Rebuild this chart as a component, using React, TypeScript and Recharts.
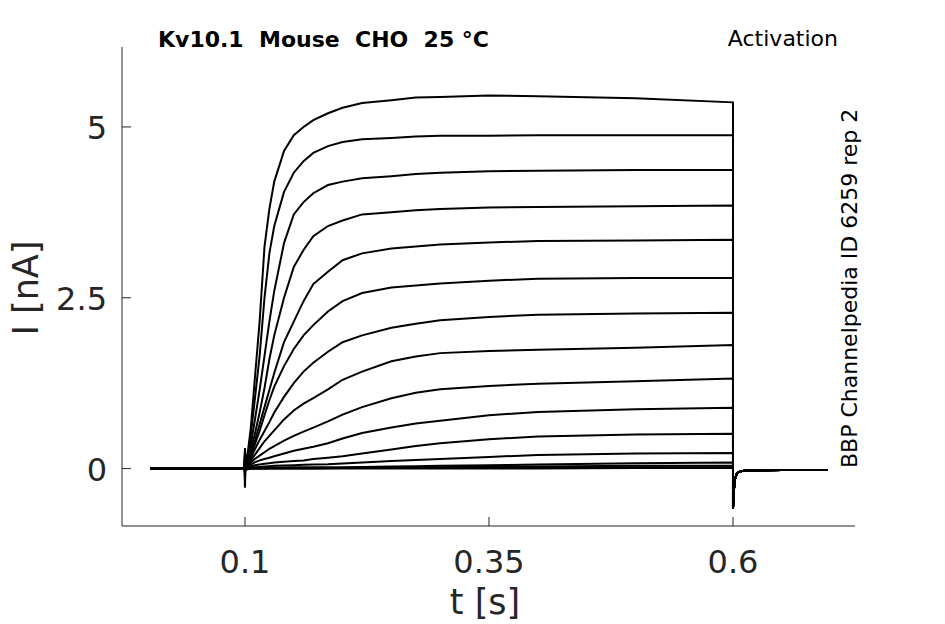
import { LineChart, Line, XAxis, YAxis } from "recharts"

// time points (s) of the three parts of each sweep
const tBefore = [0.003, 0.05, 0.0995]
const iBefore = [0, 0, 0]

const tStep = [0.1, 0.1004, 0.103, 0.106, 0.11, 0.115, 0.12, 0.125, 0.13, 0.14, 0.15, 0.16, 0.17, 0.185, 0.2, 0.22, 0.25, 0.275, 0.3, 0.35, 0.4, 0.5, 0.6]

const tAfter = [0.6, 0.601, 0.602, 0.604, 0.607, 0.612, 0.65, 0.697]
const iAfter = [-0.58, -0.3, -0.15, -0.07, -0.04, -0.03, -0.02, -0.02]

// current (nA) during the step, one array per sweep
const sweep1 = [0.3, 0.05, 0.25, 0.6, 1.3, 2.15, 3.25, 3.8, 4.2, 4.65, 4.88, 5.0, 5.1, 5.2, 5.28, 5.35, 5.39, 5.43, 5.44, 5.46, 5.45, 5.42, 5.36]
const sweep2 = [0.28, 0.04, 0.2, 0.5, 1.0, 1.65, 2.5, 3.15, 3.55, 4.05, 4.33, 4.5, 4.62, 4.72, 4.78, 4.82, 4.84, 4.86, 4.87, 4.87, 4.88, 4.88, 4.88]
const sweep3 = [0.25, 0.03, 0.15, 0.35, 0.7, 1.15, 1.65, 2.15, 2.6, 3.3, 3.72, 3.9, 4.03, 4.15, 4.2, 4.25, 4.28, 4.31, 4.33, 4.35, 4.36, 4.37, 4.37]
const sweep4 = [0.22, 0.03, 0.12, 0.28, 0.5, 0.82, 1.18, 1.6, 1.95, 2.5, 2.95, 3.2, 3.4, 3.55, 3.63, 3.72, 3.75, 3.78, 3.8, 3.82, 3.83, 3.84, 3.85]
const sweep5 = [0.2, 0.02, 0.1, 0.22, 0.4, 0.65, 0.9, 1.15, 1.4, 1.85, 2.15, 2.45, 2.7, 2.88, 3.05, 3.15, 3.22, 3.25, 3.28, 3.31, 3.33, 3.34, 3.35]
const sweep6 = [0.18, 0.02, 0.1, 0.2, 0.35, 0.55, 0.78, 1.0, 1.2, 1.5, 1.75, 1.95, 2.1, 2.3, 2.45, 2.57, 2.65, 2.68, 2.71, 2.75, 2.78, 2.79, 2.79]
const sweep7 = [0.15, 0.02, 0.08, 0.16, 0.28, 0.42, 0.55, 0.68, 0.82, 1.05, 1.25, 1.42, 1.55, 1.71, 1.85, 1.95, 2.06, 2.12, 2.17, 2.22, 2.25, 2.27, 2.28]
const sweep8 = [0.12, 0.01, 0.06, 0.12, 0.2, 0.3, 0.4, 0.48, 0.56, 0.72, 0.85, 0.95, 1.03, 1.16, 1.3, 1.42, 1.57, 1.64, 1.69, 1.72, 1.74, 1.77, 1.81]
const sweep9 = [0.1, 0.01, 0.05, 0.09, 0.14, 0.19, 0.24, 0.29, 0.33, 0.41, 0.48, 0.54, 0.6, 0.69, 0.79, 0.9, 1.03, 1.11, 1.16, 1.21, 1.24, 1.28, 1.32]
const sweep10 = [0.08, 0.01, 0.03, 0.06, 0.09, 0.12, 0.14, 0.16, 0.18, 0.22, 0.26, 0.29, 0.32, 0.37, 0.44, 0.52, 0.6, 0.66, 0.7, 0.78, 0.83, 0.87, 0.89]
const sweep11 = [0.06, 0.01, 0.02, 0.03, 0.05, 0.06, 0.07, 0.08, 0.09, 0.1, 0.11, 0.12, 0.14, 0.16, 0.18, 0.22, 0.28, 0.33, 0.37, 0.43, 0.47, 0.5, 0.51]
const sweep12 = [0.04, 0, 0.01, 0.015, 0.02, 0.025, 0.03, 0.035, 0.04, 0.045, 0.05, 0.055, 0.06, 0.065, 0.075, 0.09, 0.11, 0.125, 0.14, 0.17, 0.2, 0.22, 0.23]
const sweep13 = [0.02, 0, 0, 0.01, 0.01, 0.01, 0.01, 0.01, 0.015, 0.015, 0.02, 0.02, 0.02, 0.02, 0.02, 0.025, 0.03, 0.035, 0.04, 0.05, 0.06, 0.08, 0.09]
const sweep14 = [-0.05, 0, 0, 0, 0, 0, 0, 0.01, 0.01, 0.01, 0.01, 0.01, 0.01, 0.01, 0.01, 0.015, 0.02, 0.02, 0.02, 0.03, 0.03, 0.04, 0.04]
const sweep15 = [-0.15, 0, 0, 0, 0, 0, 0, 0, 0, 0, 0, 0, 0, 0.005, 0.01, 0.01, 0.01, 0.01, 0.01, 0.01, 0.02, 0.02, 0.02]
const sweep16 = [-0.28, -0.02, -0.01, 0, 0, 0, 0, 0, 0, 0, 0, 0, 0, 0, 0, 0, 0, 0, 0, 0, 0, 0.01, 0.01]

const sweeps = [sweep1, sweep2, sweep3, sweep4, sweep5, sweep6, sweep7, sweep8, sweep9, sweep10, sweep11, sweep12, sweep13, sweep14, sweep15, sweep16]

const xTicks = [0.1, 0.35, 0.6]
const yTicks = [0, 2.5, 5]

const axisColor = "#262626"
const font = "DejaVu Sans, sans-serif"

const sweepData = sweeps.map((step) => [
  ...tBefore.map((t, k) => ({ t, i: iBefore[k] })),
  ...tStep.map((t, k) => ({ t, i: step[k] })),
  ...tAfter.map((t, k) => ({ t, i: iAfter[k] })),
])

// MATLAB-style ticks pointing into the axes
function XTick(props: any) {
  const { x, y, payload } = props
  return (
    <g>
      <line x1={x} x2={x} y1={y} y2={y - 9} stroke={axisColor} strokeWidth={1} />
      <text x={x} y={y + 47} textAnchor="middle" fontSize={32} fontFamily={font} fill={axisColor}>
        {payload.value}
      </text>
    </g>
  )
}

function YTick(props: any) {
  const { x, y, payload } = props
  return (
    <g>
      <line x1={x} x2={x + 9} y1={y} y2={y} stroke={axisColor} strokeWidth={1} />
      <text x={x - 15} y={y + 12} textAnchor="end" fontSize={32} fontFamily={font} fill={axisColor}>
        {payload.value}
      </text>
    </g>
  )
}

export default function App() {
  return (
    <div style={{ position: "absolute", left: 0, top: 0, width: 945, height: 624, background: "#fff" }}>
      <LineChart width={945} height={624} margin={{ top: 47, right: 90, bottom: 38, left: 42 }}>
        <XAxis
          type="number"
          dataKey="t"
          domain={[-0.026, 0.725]}
          ticks={xTicks}
          allowDataOverflow
          height={60}
          tickSize={0}
          tickMargin={0}
          tickLine={false}
          axisLine={{ stroke: axisColor }}
          tick={<XTick />}
        />
        <YAxis
          type="number"
          dataKey="i"
          domain={[-0.84, 6.17]}
          ticks={yTicks}
          allowDataOverflow
          width={80}
          tickSize={0}
          tickMargin={0}
          tickLine={false}
          axisLine={{ stroke: axisColor }}
          tick={<YTick />}
        />
        {sweepData.map((d, k) => (
          <Line
            key={k}
            data={d}
            dataKey="i"
            type="linear"
            stroke="#000"
            strokeWidth={2}
            dot={false}
            activeDot={false}
            isAnimationActive={false}
          />
        ))}
      </LineChart>
      <svg width={945} height={624} style={{ position: "absolute", left: 0, top: 0, pointerEvents: "none" }}>
        <text x={158} y={47} fontSize={22} fontWeight="bold" fontFamily={font} fill="#000" style={{ whiteSpace: "pre" }}>
          {"Kv10.1  Mouse  CHO  25 °C"}
        </text>
        <text x={838} y={46} textAnchor="end" fontSize={22} fontFamily={font} fill="#000">
          Activation
        </text>
        <text x={857} y={468} fontSize={22} fontFamily={font} fill="#000" transform="rotate(-90 857 468)">
          BBP Channelpedia ID 6259 rep 2
        </text>
        <text x={38} y={288} textAnchor="middle" fontSize={35} fontFamily={font} fill={axisColor} transform="rotate(-90 38 288)" style={{ whiteSpace: "pre" }}>
          I [nA]
        </text>
        <text x={485} y={614} textAnchor="middle" fontSize={35} fontFamily={font} fill={axisColor}>
          t [s]
        </text>
      </svg>
    </div>
  )
}
